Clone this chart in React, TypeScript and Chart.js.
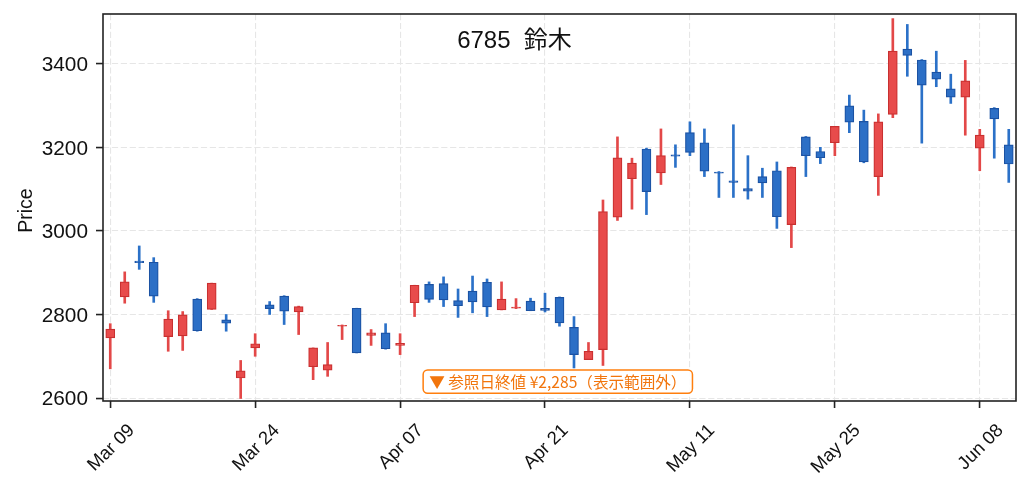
import React, { useEffect, useRef } from "react";
import { Chart, registerables } from "chart.js";

Chart.register(...registerables);

const FONT = "'Liberation Sans', 'Noto Sans CJK JP', sans-serif";
const JP_FONT = "'Noto Sans CJK JP', 'Liberation Sans', sans-serif";

const dates = [
  "Mar 09", "Mar 10", "Mar 11", "Mar 12", "Mar 13", "Mar 16", "Mar 17", "Mar 18", "Mar 19", "Mar 23",
  "Mar 24", "Mar 25", "Mar 26", "Mar 27", "Mar 30", "Mar 31", "Apr 01", "Apr 02", "Apr 03", "Apr 06",
  "Apr 07", "Apr 08", "Apr 09", "Apr 10", "Apr 13", "Apr 14", "Apr 15", "Apr 16", "Apr 17", "Apr 20",
  "Apr 21", "Apr 22", "Apr 23", "Apr 24", "Apr 27", "Apr 28", "Apr 30", "May 01", "May 07", "May 08",
  "May 11", "May 12", "May 13", "May 14", "May 15", "May 18", "May 19", "May 20", "May 21", "May 22",
  "May 25", "May 26", "May 27", "May 28", "May 29", "Jun 01", "Jun 02", "Jun 03", "Jun 04", "Jun 05",
  "Jun 08", "Jun 09", "Jun 10",
];

const opens = [
  2744, 2842, 2928, 2925, 2747, 2749, 2837, 2812, 2787, 2648,
  2720, 2823, 2844, 2806, 2675, 2667, 2772, 2815, 2750, 2756,
  2726, 2828, 2872, 2874, 2833, 2856, 2877, 2811, 2815, 2832,
  2815, 2841, 2769, 2692, 2716, 3033, 3125, 3196, 3139, 3182,
  3235, 3211, 3141, 3120, 3101, 3130, 3144, 3015, 3225, 3190,
  3211, 3299, 3262, 3130, 3279, 3435, 3409, 3380, 3340, 3320,
  3198, 3293, 3206,
];
const highs = [
  2778, 2902, 2964, 2936, 2809, 2807, 2838, 2875, 2800, 2690,
  2754, 2831, 2845, 2820, 2720, 2733, 2775, 2815, 2764, 2778,
  2754, 2870, 2878, 2890, 2861, 2892, 2885, 2878, 2838, 2839,
  2851, 2842, 2795, 2733, 3074, 3225, 3174, 3198, 3244, 3206,
  3261, 3244, 3142, 3254, 3180, 3150, 3165, 3153, 3226, 3200,
  3250, 3325, 3289, 3280, 3508, 3494, 3410, 3430, 3375, 3408,
  3243, 3295, 3243,
];
const lows = [
  2670, 2827, 2908, 2829, 2712, 2714, 2760, 2812, 2760, 2599,
  2700, 2800, 2776, 2752, 2644, 2652, 2740, 2708, 2726, 2717,
  2704, 2795, 2829, 2819, 2793, 2804, 2795, 2811, 2814, 2809,
  2806, 2772, 2672, 2692, 2678, 3025, 3052, 3039, 3111, 3152,
  3180, 3130, 3080, 3080, 3076, 3080, 3006, 2960, 3130, 3161,
  3180, 3235, 3163, 3085, 3271, 3370, 3210, 3345, 3305, 3229,
  3144, 3174, 3116,
];
const closes = [
  2765, 2878, 2924, 2844, 2789, 2799, 2761, 2875, 2779, 2665,
  2730, 2814, 2808, 2819, 2720, 2680, 2774, 2708, 2756, 2718,
  2731, 2870, 2836, 2835, 2821, 2830, 2818, 2837, 2818, 2809,
  2810, 2780, 2704, 2712, 3046, 3175, 3162, 3094, 3180, 3179,
  3188, 3143, 3138, 3116, 3095, 3115, 3034, 3152, 3180, 3175,
  3250, 3260, 3165, 3261, 3430, 3420, 3349, 3363, 3320, 3359,
  3229, 3268, 3160,
];

const yTicks = [2600, 2800, 3000, 3200, 3400];
const yMin = 2593;
const yMax = 3519;
const xTickEvery = 10;

const titleText = "6785  鈴木";
const yLabel = "Price";
const noteText = "▼ 参照日終値 ¥2,285（表示範囲外）";

const GRID = "#e6e6e6";
const SPINE = "#222222";

export default function App() {
  const canvasRef = useRef<HTMLCanvasElement | null>(null);

  useEffect(() => {
    const canvas = canvasRef.current;
    if (!canvas) return;
    Chart.defaults.font.family = FONT;

    const up = closes.map((c, i) => c >= opens[i]);
    const bodyFill = up.map((u) => (u ? "#e84b4b" : "#2c6fc6"));
    const bodyEdge = up.map((u) => (u ? "#c93030" : "#1b52a3"));
    const wickCol = up.map((u) => (u ? "#e34848" : "#2b71c8"));

    const overlay = {
      id: "overlay",
      afterDraw(chart: any) {
        const { ctx, chartArea: a, scales } = chart;
        const x = scales.x;
        ctx.save();
        // frame
        ctx.strokeStyle = SPINE;
        ctx.lineWidth = 1.6;
        ctx.strokeRect(a.left, a.top, a.right - a.left, a.bottom - a.top);

        // title
        ctx.fillStyle = "#111111";
        ctx.font = `24px ${FONT}`;
        ctx.textAlign = "center";
        ctx.textBaseline = "alphabetic";
        ctx.fillText(titleText, chart.width / 2, 47.5);

        // x tick labels, rotated 45deg, centred on tick
        const fs = 18.5;
        ctx.font = `${fs}px ${FONT}`;
        dates.forEach((d, i) => {
          if (i % xTickEvery !== 0) return;
          const px = x.getPixelForValue(i);
          const w = ctx.measureText(d).width;
          const h = fs * 0.72;
          const half = ((w + h) / 2) * Math.SQRT1_2;
          ctx.save();
          ctx.translate(px, a.bottom + 20.7 + half);
          ctx.rotate(-Math.PI / 4);
          ctx.textAlign = "center";
          ctx.textBaseline = "alphabetic";
          ctx.fillText(d, 0, h / 2);
          ctx.restore();
        });

        // y label
        ctx.save();
        ctx.font = `19.5px ${FONT}`;
        ctx.translate(31.7, (a.top + a.bottom) / 2 + 3);
        ctx.rotate(-Math.PI / 2);
        ctx.textAlign = "center";
        ctx.textBaseline = "alphabetic";
        ctx.fillText(yLabel, 0, 0);
        ctx.restore();

        // note box
        ctx.font = `15.6px ${JP_FONT}`;
        const tw = ctx.measureText(noteText).width;
        const cx = (a.left + a.right) / 2 - 1.7;
        const cy = 381.7;
        const bw = tw + 12;
        const bh = 23.3;
        ctx.beginPath();
        (ctx as any).roundRect(cx - bw / 2, cy - bh / 2, bw, bh, 4.5);
        ctx.fillStyle = "rgba(255,255,255,0.92)";
        ctx.fill();
        ctx.strokeStyle = "#ff7f0e";
        ctx.lineWidth = 1.5;
        ctx.stroke();
        ctx.fillStyle = "#f2750c";
        ctx.textAlign = "center";
        ctx.textBaseline = "middle";
        ctx.fillText(noteText, cx, cy + 0.5);
        ctx.restore();
      },
    };

    const chart = new Chart(canvas, {
      type: "bar",
      data: {
        labels: dates,
        datasets: [
          {
            label: "wick",
            data: lows.map((l, i) => [l, highs[i]]) as any,
            backgroundColor: wickCol,
            borderWidth: 0,
            barThickness: 2,
            grouped: false,
            order: 2,
          } as any,
          {
            label: "body",
            data: opens.map((o, i) => [o, closes[i]]) as any,
            backgroundColor: bodyFill,
            borderColor: bodyEdge,
            borderWidth: 1.2,
            borderSkipped: false,
            barThickness: 9,
            grouped: false,
            order: 1,
          } as any,
        ],
      },
      options: {
        animation: false,
        responsive: false,
        maintainAspectRatio: false,
        layout: { padding: { left: 0, right: 13, top: 14, bottom: 0 } },
        plugins: {
          legend: { display: false },
          tooltip: { enabled: false },
          title: { display: false },
        },
        scales: {
          x: {
            type: "category",
            offset: true,
            grid: {
              offset: false,
              color: (c: any) => (c.index % xTickEvery === 0 ? GRID : "rgba(0,0,0,0)"),
              lineWidth: 1.1,
              drawTicks: true,
              tickLength: 7,
              tickWidth: 1.6,
              tickColor: (c: any) => (c.index % xTickEvery === 0 ? SPINE : "rgba(0,0,0,0)"),
              tickBorderDash: [],
            },
            border: { display: false, dash: [6.2, 2.7] },
            ticks: { display: false, autoSkip: false },
            afterFit: (s: any) => {
              s.height = 90;
              s.paddingLeft = 0;
              s.paddingRight = 0;
            },
          } as any,
          y: {
            type: "linear",
            min: yMin,
            max: yMax,
            afterBuildTicks: (s: any) => {
              s.ticks = yTicks.map((v) => ({ value: v }));
            },
            grid: {
              color: GRID,
              lineWidth: 1.1,
              drawTicks: true,
              tickLength: 7,
              tickWidth: 1.6,
              tickColor: SPINE,
              tickBorderDash: [],
            },
            border: { display: false, dash: [6.2, 2.7] },
            ticks: {
              font: { family: FONT, size: 20.8 },
              color: "#111111",
              padding: 8,
              labelOffset: 1.5,
              callback: (v: any) => String(v),
            },
            afterFit: (s: any) => {
              s.width = 103;
              s.paddingTop = 0;
              s.paddingBottom = 0;
            },
          } as any,
        },
      },
      plugins: [overlay],
    });

    return () => chart.destroy();
  }, []);

  return (
    <div
      style={{
        position: "absolute",
        left: 0,
        top: 0,
        width: 1029,
        height: 491,
        background: "#ffffff",
      }}
    >
      <canvas ref={canvasRef} width={1029} height={491} style={{ width: 1029, height: 491 }} />
    </div>
  );
}
